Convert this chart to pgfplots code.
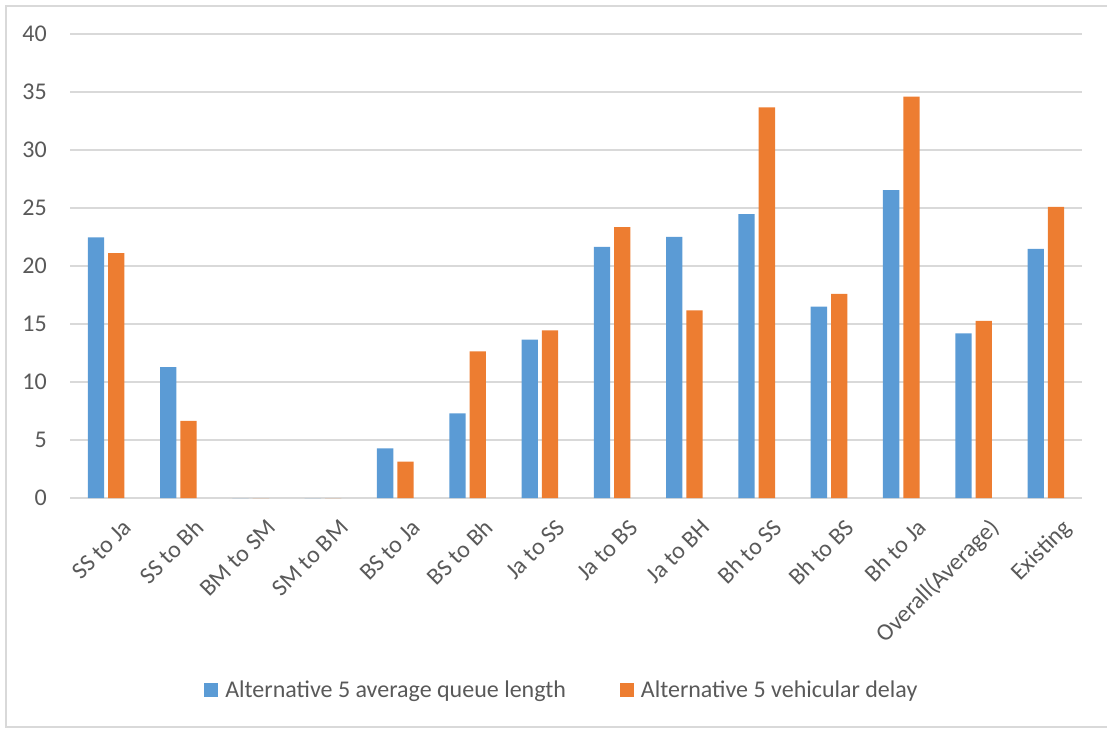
\documentclass[border=0pt]{standalone}
\usepackage{pgfplots}
\pgfplotsset{compat=1.18}
\usepackage{fontspec}
\setmainfont{Carlito}

\definecolor{qblue}{HTML}{5B9BD5}
\definecolor{dorange}{HTML}{ED7D31}
\definecolor{gridgray}{HTML}{D9D9D9}
\definecolor{textgray}{HTML}{595959}

\pgfplotstableread{
idx queue delay
0  22.47 21.12
1  11.29 6.64
2  0     0
3  0     0
4  4.28  3.13
5  7.30  12.64
6  13.65 14.45
7  21.64 23.36
8  22.50 16.18
9  24.48 33.68
10 16.50 17.60
11 26.55 34.60
12 14.20 15.26
13 21.47 25.09
}\routes

\begin{document}
\begin{tikzpicture}[x=1pt,y=1pt]
\useasboundingbox (0,0) rectangle (1107,728);
% chart area frame
\draw[gridgray, line width=1.2pt] (6,1) rectangle (1112,722);
\begin{axis}[
  at={(70pt,230pt)}, anchor=south west,
  scale only axis, width=1012pt, height=464pt,
  xmin=-0.5, xmax=13.5, ymin=0, ymax=40,
  ytick={0,5,...,40},
  xtick=data,
  xticklabels={SS to Ja,SS to Bh,BM to SM,SM to BM,BS to Ja,BS to Bh,Ja to SS,Ja to BS,Ja to BH,Bh to SS,Bh to BS,Bh to Ja,Overall(Average),Existing},
  ybar=4pt, bar width=16.3pt,
  axis line style={draw=none},
  axis x line*=bottom,
  ymajorgrids, grid style={gridgray, line width=1.3pt},
  major tick length=0pt,
  tick label style={font=\fontsize{24}{28}\selectfont, text=textgray},
  /pgf/number format/assume math mode=true,
  yticklabel style={anchor=east, inner sep=0pt, xshift=-23pt},
  xticklabel style={rotate=45, anchor=base east, inner sep=0pt, xshift=-3pt, yshift=-41pt},
  legend style={draw=none, fill=none, at={(0.486,-0.4138)}, anchor=center,
    font=\fontsize{24}{28}\selectfont, text=textgray, legend columns=2,
    /tikz/every even column/.append style={column sep=52pt}},
  legend image code/.code={\fill[#1] (0pt,-7pt) rectangle (14pt,7pt); \path (19pt,0pt);},
]
\draw[gridgray, line width=1.3pt] (axis cs:-0.5,0) -- (axis cs:13.5,0);
\addplot[fill=qblue, draw=none] table[x=idx, y=queue] {\routes};
\addplot[fill=dorange, draw=none] table[x=idx, y=delay] {\routes};
\legend{Alternative 5 average queue length, Alternative 5 vehicular delay}
\end{axis}
\end{tikzpicture}
\end{document}
